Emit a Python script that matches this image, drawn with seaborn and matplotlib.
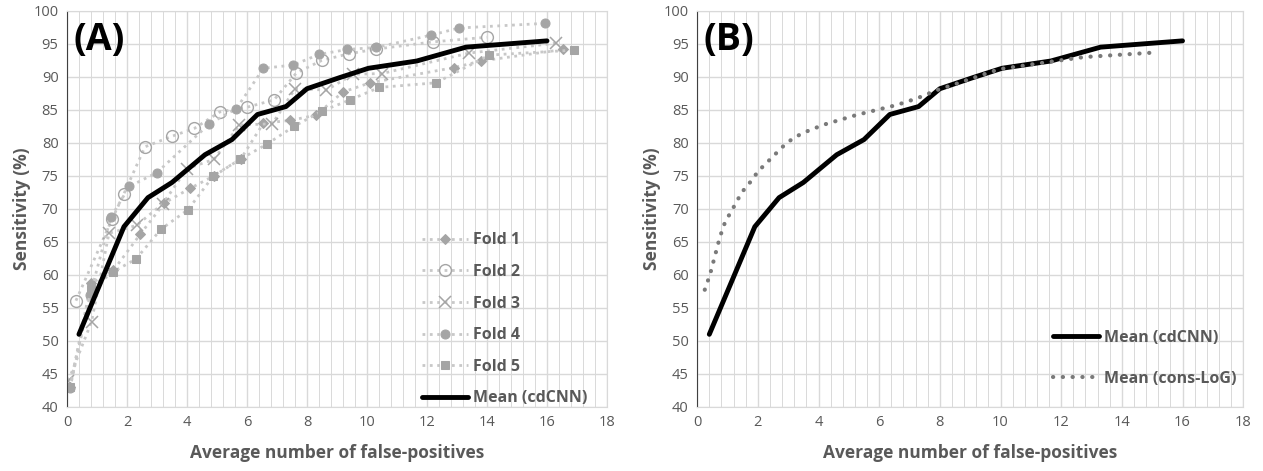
import pandas as pd
import seaborn as sns
import matplotlib.pyplot as plt
import numpy as np
from matplotlib.ticker import MultipleLocator

fold1_x = [0.1, 0.8, 1.55, 2.45, 3.25, 4.1, 4.9, 5.8, 6.55, 7.45, 8.3, 9.2, 10.1, 12.9, 13.8, 16.55]
fold1_y = [43.0, 58.7, 60.7, 66.2, 70.9, 73.1, 75.0, 77.6, 83.0, 83.4, 84.2, 87.7, 89.1, 91.4, 92.4, 94.15]
fold2_x = [0.3, 1.5, 1.9, 2.6, 3.5, 4.25, 5.1, 6.0, 6.9, 7.65, 8.5, 9.4, 10.3, 12.2, 14.0]
fold2_y = [56.1, 68.4, 72.3, 79.4, 81.0, 82.2, 84.7, 85.4, 86.5, 90.6, 92.5, 93.5, 94.2, 95.3, 96.0]
fold3_x = [0.05, 0.82, 1.4, 2.32, 3.2, 4.0, 4.9, 5.75, 6.85, 7.6, 8.65, 9.55, 10.5, 13.4, 16.3]
fold3_y = [44.0, 52.9, 66.3, 67.5, 70.8, 76.1, 77.5, 82.7, 82.9, 88.2, 88.0, 90.4, 90.5, 93.6, 95.1]
fold4_x = [0.1, 0.77, 1.46, 2.08, 3.0, 4.75, 5.65, 6.55, 7.55, 8.4, 9.35, 10.3, 12.12, 13.07, 15.93]
fold4_y = [42.8, 56.9, 68.7, 73.4, 75.5, 82.9, 85.2, 91.3, 91.8, 93.4, 94.15, 94.45, 96.3, 97.4, 98.1]
fold5_x = [0.1, 0.8, 1.55, 2.3, 3.13, 4.04, 4.88, 5.77, 6.66, 7.57, 8.49, 9.43, 10.41, 12.3, 14.08, 16.9]
fold5_y = [43.0, 57.8, 60.5, 62.4, 66.9, 69.9, 75.0, 77.5, 79.8, 82.5, 84.8, 86.5, 88.4, 89.1, 93.3, 94.05]

mean_x = [0.4, 1.9, 2.7, 3.5, 4.6, 5.5, 6.35, 7.3, 8.0, 9.1, 10.05, 11.66, 13.3, 16.0]
mean_y = [51.0, 67.3, 71.7, 74.0, 78.2, 80.5, 84.3, 85.5, 88.2, 89.9, 91.3, 92.4, 94.5, 95.45]

log_x = [0.25, 0.42, 0.75, 0.92, 1.17, 1.47, 1.74, 2.02, 2.35, 2.62, 2.95, 3.28, 3.62, 4.17, 4.72,
         5.27, 5.93, 6.59, 7.25, 7.91, 8.57, 9.68, 10.0, 11.66, 12.76, 14.97]
log_y = [57.75, 60.0, 65.75, 68.0, 70.0, 72.5, 74.0, 75.75, 77.25, 78.5, 80.0, 81.0, 81.75, 82.75, 83.5,
         84.25, 85.0, 85.75, 86.75, 88.0, 89.0, 90.75, 91.2, 92.3, 93.0, 93.65]

folds = [('Fold 1', fold1_x, fold1_y, 'D'), ('Fold 2', fold2_x, fold2_y, 'o'),
         ('Fold 3', fold3_x, fold3_y, 'x'), ('Fold 4', fold4_x, fold4_y, 'o'),
         ('Fold 5', fold5_x, fold5_y, 's')]

sns.set_style('white')
plt.rcParams['font.family'] = ['Open Sans', 'DejaVu Sans']

txt = '#595959'
mk = '#a5a5a5'
grid = '#d9d9d9'

fig = plt.figure(figsize=(12.63, 4.71), dpi=100)
axA = fig.add_axes([0.053, 0.136, 0.4276, 0.841])
axB = fig.add_axes([0.552, 0.136, 0.4323, 0.841])

for name, fx, fy, m in folds:
    kw = dict(color='#c8c8c8', linestyle=':', linewidth=2, marker=m, markersize=6.5,
              markerfacecolor=mk, markeredgecolor=mk)
    if name == 'Fold 2':
        kw.update(markerfacecolor='none', markersize=8.5, markeredgewidth=1)
    if m == 'x':
        kw.update(markersize=8.5, markeredgewidth=1.1)
    if m in ('D', 's'):
        kw.update(markersize=5.5)
    sns.lineplot(x=fx, y=fy, ax=axA, sort=False, estimator=None, label=name, **kw)

sns.lineplot(x=mean_x, y=mean_y, ax=axA, sort=False, estimator=None, color='black',
             linewidth=3.5, label='Mean (cdCNN)')

sns.lineplot(x=mean_x, y=mean_y, ax=axB, sort=False, estimator=None, color='black',
             linewidth=3.5, label='Mean (cdCNN)')
sns.lineplot(x=log_x, y=log_y, ax=axB, sort=False, estimator=None, color='#7a7a7a',
             linewidth=3, linestyle=(0, (0.05, 2.3)), dash_capstyle='round', label='Mean (cons-LoG)')

for ax, tag in [(axA, '(A)'), (axB, '(B)')]:
    ax.set_xlim(0, 18)
    ax.set_ylim(40, 100)
    ax.xaxis.set_major_locator(MultipleLocator(2))
    ax.xaxis.set_minor_locator(MultipleLocator(0.4))
    ax.yaxis.set_major_locator(MultipleLocator(5))
    ax.yaxis.set_minor_locator(MultipleLocator(0.5))
    ax.grid(which='major', color=grid, linewidth=1)
    ax.grid(which='minor', axis='x', color=grid, linewidth=0.7)
    ax.set_axisbelow(True)
    for s in ['top', 'right', 'bottom']:
        ax.spines[s].set_color(grid)
    ax.spines['left'].set_color('#404040')
    ax.spines['left'].set_linewidth(0.8)
    ax.tick_params(axis='both', which='major', labelsize=10.5, labelcolor=txt, length=0, pad=6)
    ax.tick_params(axis='y', which='minor', length=3, color='#404040', direction='inout', width=0.7)
    ax.tick_params(axis='x', which='minor', length=0)
    ax.set_xlabel('Average number of false-positives', fontsize=12.5, fontweight='bold', color=txt, labelpad=10)
    ax.set_ylabel('Sensitivity (%)', fontsize=12.5, fontweight='bold', color=txt, labelpad=2)
    ax.text(0.012, 0.975, tag, transform=ax.transAxes, fontsize=27, fontweight='bold',
            color='black', va='top', ha='left')

legA = axA.legend(loc='lower right', frameon=False, fontsize=11.5, handlelength=2.9,
                  labelspacing=0.98, handletextpad=0.3, borderaxespad=0.0, bbox_to_anchor=(0.975, -0.015))
legB = axB.legend(loc='lower right', frameon=False, fontsize=11.5, handlelength=2.9,
                  labelspacing=1.55, handletextpad=0.3, borderaxespad=0.0, bbox_to_anchor=(1.0, 0.035))
for leg in (legA, legB):
    for t in leg.get_texts():
        t.set_color(txt)
        t.set_fontweight('bold')

fig.savefig('out.png', dpi=100)
